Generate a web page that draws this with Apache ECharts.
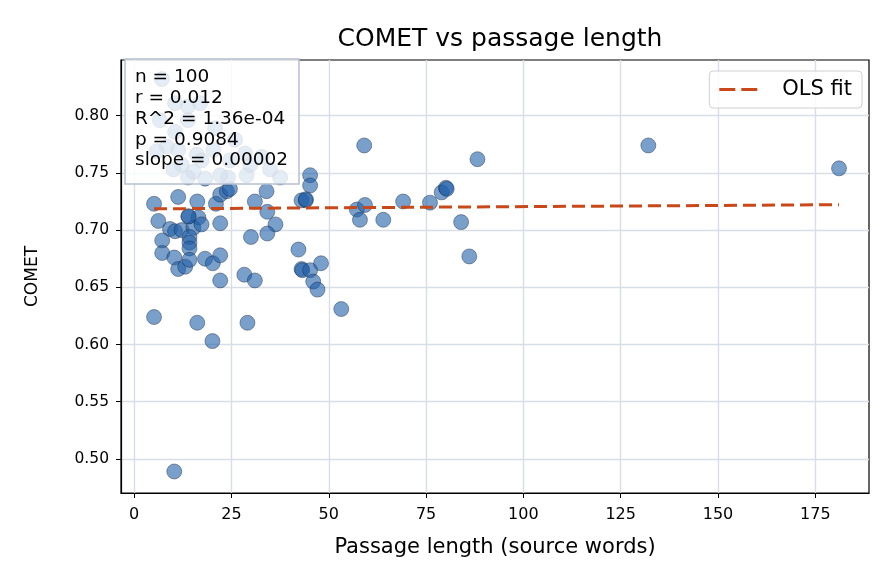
<!DOCTYPE html>
<html>
<head>
<meta charset="utf-8">
<script src="https://cdn.jsdelivr.net/npm/echarts@6/dist/echarts.min.js"></script>
<style>
  html, body { margin: 0; padding: 0; background: #fff; }
  #main { width: 896px; height: 584px; }
</style>
</head>
<body>
<div id="main"></div>
<script>
// passage length (source words) and COMET score for each passage
var lengths = [
  5.1, 10.3, 16.2, 20.1, 29.1, 53.2,
  5.1, 11.3, 16.2, 21.0, 22.1, 23.8, 24.6, 31.0, 34.0, 34.2, 36.3,
  6.2, 13.9, 16.5, 9.2, 10.5, 12.2, 15.2, 17.3, 22.1, 14.2, 7.2, 14.2, 14.2,
  7.2, 10.3, 11.3, 13.1, 14.2, 18.2, 20.2, 22.1, 22.1, 30.0, 28.3, 31.0, 34.2,
  59.1, 88.2, 45.2, 45.2, 43.0, 44.1, 44.1, 57.2, 59.3, 58.0, 64.0, 69.1, 76.0,
  79.0, 80.1, 80.3, 84.0, 86.1, 42.2, 43.0, 43.2, 45.2, 48.0, 46.0, 47.1, 132.1, 181.1,
  7.1, 10.5, 13.8, 16.9, 13.8, 10.5, 8.4, 11.3, 16.1, 17.3, 20.3, 28.5, 32.8,
  12.2, 13.8, 18.2, 24.1, 10.1, 15.2, 22.1, 28.9, 5.8, 34.9, 25.9, 20.8, 29.8,
  6.6, 24.6, 37.5, 14.0
];
var comet = [
  0.624, 0.489, 0.619, 0.603, 0.619, 0.631,
  0.723, 0.729, 0.725, 0.723, 0.731, 0.734, 0.736, 0.725, 0.734, 0.716, 0.705,
  0.708, 0.712, 0.711, 0.701, 0.699, 0.700, 0.702, 0.705, 0.706, 0.694, 0.691, 0.689, 0.684,
  0.680, 0.676, 0.666, 0.668, 0.674, 0.675, 0.671, 0.678, 0.656, 0.694, 0.661, 0.656, 0.697,
  0.774, 0.762, 0.748, 0.739, 0.726, 0.726, 0.727, 0.718, 0.722, 0.709, 0.709, 0.725, 0.724,
  0.733, 0.737, 0.736, 0.707, 0.677, 0.683, 0.666, 0.665, 0.665, 0.671, 0.655, 0.648, 0.774, 0.754,
  0.832, 0.811, 0.808, 0.811, 0.796, 0.786, 0.773, 0.770, 0.766, 0.761, 0.770, 0.767, 0.764,
  0.757, 0.746, 0.745, 0.746, 0.753, 0.751, 0.748, 0.748, 0.769, 0.753, 0.779, 0.789, 0.757,
  0.796, 0.761, 0.746, 0.712
];
// OLS fit end points
var fitX = [5.1, 181.1];
var fitY = [0.7186, 0.7222];
var xTicks = [0, 25, 50, 75, 100, 125, 150, 175];
var yTicks = [0.50, 0.55, 0.60, 0.65, 0.70, 0.75, 0.80];
var statLines = ['n = 100', 'r = 0.012', 'R^2 = 1.36e-04', 'p = 0.9084', 'slope = 0.00002'];

var myChart = echarts.init(document.getElementById('main'));
var font = 'DejaVu Sans';

var points = lengths.map(function (v, i) { return [v, comet[i]]; });
var fitLine = fitX.map(function (v, i) { return [v, fitY[i]]; });

var option = {
    animation: false,
    textStyle: { fontFamily: font, color: '#000' },
    title: [{
        text: 'COMET vs passage length',
        left: 495, top: 22, textAlign: 'center',
        textStyle: { fontFamily: font, fontSize: 25, fontWeight: 'normal', color: '#000' }
    }, {
        // stats box, drawn on its own layer so the points show through faintly
        text: statLines.join('\n'),
        left: 125, top: 59,
        zlevel: 1,
        padding: [8, 11, 13, 10],
        backgroundColor: 'rgba(255,255,255,0.8)',
        borderColor: '#b4c0cf', borderWidth: 1.5,
        textStyle: { fontFamily: font, fontSize: 18.5, fontWeight: 'normal', color: '#000', lineHeight: 20.8 }
    }],
    legend: {
        data: ['OLS fit'],
        right: 34, top: 71,
        padding: [8, 10],
        icon: 'path://M0,0h16v3h-16z M22,0h16v3h-16z',
        itemWidth: 38, itemHeight: 3,
        backgroundColor: 'rgba(255,255,255,0.8)',
        borderColor: '#d0d0d0', borderWidth: 1, borderRadius: 4,
        itemStyle: { color: '#c9481a' },
        textStyle: { fontFamily: font, fontSize: 21, color: '#000', padding: [0, 0, 0, 20] }
    },
    grid: {
        left: 121, right: 27, top: 60, bottom: 91,
        show: true, borderColor: '#000', borderWidth: 1.2
    },
    xAxis: {
        type: 'value',
        min: -3.39, max: 188.8,
        name: 'Passage length (source words)',
        nameLocation: 'middle', nameGap: 44,
        nameTextStyle: { fontFamily: font, fontSize: 21, color: '#000' },
        axisLine: { show: true, onZero: false, lineStyle: { color: '#000', width: 1.2 } },
        axisTick: { show: true, length: 5, customValues: xTicks, lineStyle: { color: '#000' } },
        axisLabel: { customValues: xTicks, fontFamily: font, fontSize: 16, color: '#000', margin: 14 },
        splitLine: { show: true, lineStyle: { color: '#d8dee8', width: 1.4 } }
    },
    yAxis: {
        type: 'value',
        min: 0.4702, max: 0.8487,
        name: 'COMET',
        nameLocation: 'middle', nameGap: 80,
        nameTextStyle: { fontFamily: font, fontSize: 17, color: '#000' },
        axisLine: { show: true, onZero: false, lineStyle: { color: '#000', width: 1.2 } },
        axisTick: { show: true, length: 5, customValues: yTicks, lineStyle: { color: '#000' } },
        axisLabel: {
            customValues: yTicks, fontFamily: font, fontSize: 15.5, color: '#000', margin: 12,
            formatter: function (v) { return v.toFixed(2); }
        },
        splitLine: { show: true, lineStyle: { color: '#d8dee8', width: 1.4 } }
    },
    series: [{
        name: 'passages',
        type: 'scatter',
        data: points,
        symbolSize: 15,
        itemStyle: {
            color: 'rgba(31,95,168,0.75)',
            borderColor: 'rgba(20,32,52,0.85)',
            borderWidth: 0.6
        },
        z: 2
    }, {
        name: 'OLS fit',
        type: 'line',
        data: fitLine,
        symbol: 'none',
        lineStyle: { color: '#c9481a', width: 3, type: [13, 6] },
        itemStyle: { color: '#c9481a' },
        z: 3
    }]
};

myChart.setOption(option);
</script>
</body>
</html>
